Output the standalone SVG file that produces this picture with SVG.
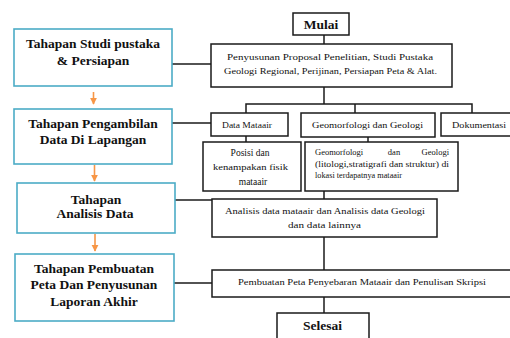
<svg xmlns="http://www.w3.org/2000/svg" width="510" height="338" viewBox="0 0 510 338">
<defs>
<style>
.stage{fill:#fff;stroke:#4bacc6;stroke-width:1.6}
.box{fill:#fff;stroke:#1a1a1a;stroke-width:1.5}
.big{font-family:"Liberation Serif",serif;font-weight:bold;font-size:13.5px;fill:#111;text-anchor:middle}
.sm{font-family:"Liberation Serif",serif;font-size:8.5px;fill:#111}
.lg{font-size:9.5px}
.c{text-anchor:middle}
.e{text-anchor:end}
.ln{stroke:#1a1a1a;stroke-width:1.5;fill:none}
.or{stroke:#f79646;stroke-width:1.6;fill:none}
</style>
<marker id="oa" viewBox="0 0 10 10" refX="9" refY="5" markerWidth="4.5" markerHeight="4.5" orient="auto" markerUnits="strokeWidth">
<path d="M0,0 L10,5 L0,10 z" fill="#f79646"/>
</marker>
</defs>
<rect width="510" height="338" fill="#fff"/>

<g id="connectors">
<line class="ln" x1="324" y1="35" x2="324" y2="44"/>
<line class="ln" x1="172" y1="64" x2="211" y2="64"/>
<line class="ln" x1="324" y1="87" x2="324" y2="104"/>
<polyline class="ln" points="246,113 246,104 472,104 472,113"/>
<line class="ln" x1="355" y1="104" x2="355" y2="113"/>
<line class="ln" x1="172" y1="123" x2="211" y2="123"/>
<line class="ln" x1="246" y1="136" x2="246" y2="142"/>
<line class="ln" x1="368" y1="137" x2="368" y2="142"/>
<line class="ln" x1="324" y1="191" x2="324" y2="199"/>
<line class="ln" x1="175" y1="200" x2="212" y2="200"/>
<line class="ln" x1="324" y1="237" x2="324" y2="270"/>
<line class="ln" x1="174" y1="283" x2="212" y2="283"/>
<line class="ln" x1="324" y1="297" x2="324" y2="313"/>
<line class="or" x1="93.5" y1="92" x2="93.5" y2="104" marker-end="url(#oa)"/>
<line class="or" x1="94.5" y1="165" x2="94.5" y2="181" marker-end="url(#oa)"/>
<line class="or" x1="95" y1="234" x2="95" y2="251" marker-end="url(#oa)"/>
</g>

<g id="stage1">
<rect class="stage" x="14" y="29" width="158" height="57"/>
<text class="big" x="93" y="47.5">Tahapan Studi pustaka</text>
<text class="big" x="93" y="64.5">&amp; Persiapan</text>
</g>
<g id="stage2">
<rect class="stage" x="14" y="109" width="158" height="55"/>
<text class="big" x="93" y="127.5">Tahapan Pengambilan</text>
<text class="big" x="93" y="143.5">Data Di Lapangan</text>
</g>
<g id="stage3">
<rect class="stage" x="17" y="183" width="158" height="50"/>
<text class="big" x="96" y="203.5">Tahapan</text>
<text class="big" x="95" y="217.5">Analisis Data</text>
</g>
<g id="stage4">
<rect class="stage" x="15" y="254" width="159" height="67"/>
<text class="big" x="94" y="272.5">Tahapan Pembuatan</text>
<text class="big" x="94" y="288.5">Peta Dan Penyusunan</text>
<text class="big" x="94" y="305.5">Laporan Akhir</text>
</g>

<g id="mulai">
<rect class="box" x="293" y="13" width="56" height="22"/>
<text class="big" x="321" y="28.5">Mulai</text>
</g>
<g id="proposal">
<rect class="box" x="211" y="44" width="241" height="43"/>
<text class="sm" x="227" y="60" textLength="206" lengthAdjust="spacingAndGlyphs">Penyusunan Proposal Penelitian, Studi Pustaka</text>
<text class="sm" x="224" y="74" textLength="213" lengthAdjust="spacingAndGlyphs">Geologi Regional, Perijinan, Persiapan Peta &amp; Alat.</text>
</g>
<g id="data-mataair">
<rect class="box" x="211" y="113" width="77" height="23"/>
<text class="sm" x="222" y="127.5" textLength="50" lengthAdjust="spacingAndGlyphs">Data Mataair</text>
</g>
<g id="geomorfologi">
<rect class="box" x="301" y="113" width="134" height="24"/>
<text class="sm" x="312" y="127.5" textLength="111" lengthAdjust="spacingAndGlyphs">Geomorfologi dan Geologi</text>
</g>
<g id="dokumentasi">
<rect class="box" x="441" y="113" width="74" height="23"/>
<text class="sm" x="452" y="127.5" textLength="54" lengthAdjust="spacingAndGlyphs">Dokumentasi</text>
</g>
<g id="posisi">
<rect class="box" x="203" y="142" width="98" height="49"/>
<text class="sm lg c" x="250" y="155.5">Posisi dan</text>
<text class="sm" x="213" y="170" textLength="75" lengthAdjust="spacingAndGlyphs">kenampakan fisik</text>
<text class="sm lg c" x="253" y="184.5">mataair</text>
</g>
<g id="geo-detail">
<rect class="box" x="305" y="142" width="153" height="49"/>
<text class="sm" x="315" y="155">Geomorfologi</text>
<text class="sm c" x="394" y="155">dan</text>
<text class="sm e" x="449" y="155">Geologi</text>
<text class="sm" x="315" y="166.5" textLength="134" lengthAdjust="spacingAndGlyphs">(litologi,stratigrafi dan struktur) di</text>
<text class="sm" x="315" y="178" textLength="87" lengthAdjust="spacingAndGlyphs">lokasi terdapatnya mataair</text>
</g>
<g id="analisis">
<rect class="box" x="212" y="199" width="225" height="38"/>
<text class="sm" x="225" y="214" textLength="200" lengthAdjust="spacingAndGlyphs">Analisis data mataair  dan Analisis data Geologi</text>
<text class="sm" x="288" y="228" textLength="73" lengthAdjust="spacingAndGlyphs">dan data lainnya</text>
</g>
<g id="pembuatan">
<rect class="box" x="212" y="270" width="303" height="27"/>
<text class="sm" x="238" y="285" textLength="248" lengthAdjust="spacingAndGlyphs">Pembuatan Peta Penyebaran Mataair  dan Penulisan Skripsi</text>
</g>
<g id="selesai">
<rect class="box" x="277" y="313" width="92" height="30"/>
<text class="big" x="322.5" y="329.5">Selesai</text>
</g>
</svg>
